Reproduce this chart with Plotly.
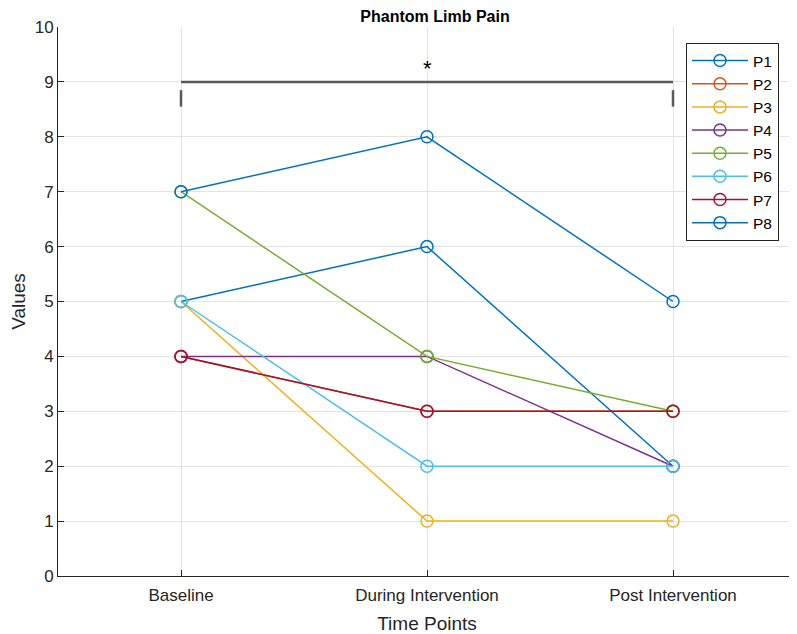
import plotly.graph_objects as go

time_points = ["Baseline", "During Intervention", "Post Intervention"]
participants = ["P1", "P2", "P3", "P4", "P5", "P6", "P7", "P8"]
P1 = [5, 6, 2]
P2 = [4, 3, 3]
P3 = [5, 1, 1]
P4 = [4, 4, 2]
P5 = [7, 4, 3]
P6 = [5, 2, 2]
P7 = [4, 3, 3]
P8 = [7, 8, 5]
series = [P1, P2, P3, P4, P5, P6, P7, P8]
colors = ["#0072BD", "#D95319", "#EDB120", "#7E2F8E", "#77AC30", "#4DBEEE", "#A2142F", "#0072BD"]

sig_level = 9
sig_tick_bottom = 8.55
sig_tick_top = 8.85
sig_label_y = 9.25

x_idx = [1, 2, 3]

FONT = "Liberation Sans, Arial, Helvetica, sans-serif"

fig = go.Figure()
for name, vals, c in zip(participants, series, colors):
    fig.add_trace(go.Scatter(
        x=x_idx, y=vals, name=name, mode="lines+markers",
        line=dict(color=c, width=1.5),
        marker=dict(symbol="circle-open", size=12, color=c, line=dict(width=1.5, color=c)),
    ))

# significance bracket
fig.add_shape(type="line", x0=x_idx[0], x1=x_idx[-1], y0=sig_level, y1=sig_level,
              xref="x", yref="y", line=dict(color="#595959", width=2.5))
for xv in (x_idx[0], x_idx[-1]):
    fig.add_shape(type="line", x0=xv, x1=xv, y0=sig_tick_bottom, y1=sig_tick_top,
                  xref="x", yref="y", line=dict(color="#595959", width=2.5))
fig.add_annotation(x=x_idx[1], y=sig_label_y, text="*", showarrow=False,
                   font=dict(size=22, color="black", family=FONT))

fig.update_layout(
    width=789, height=626,
    margin=dict(l=50, r=1, t=19, b=58),
    paper_bgcolor="white", plot_bgcolor="white",
    font=dict(family=FONT, color="#262626"),
    title=dict(text="<b>Phantom Limb Pain</b>", x=(435 - 8) / 789, xanchor="center",
               y=1 - 3 / 626, yanchor="top", yref="container", pad=dict(t=0, b=0),
               font=dict(size=16, color="black")),
    showlegend=True,
    legend=dict(x=(686 - 58) / 738, y=(576 - 43) / 549, xanchor="left", yanchor="top",
                bordercolor="#262626", borderwidth=1, bgcolor="white",
                font=dict(size=15.5, color="black"), tracegroupgap=0, itemwidth=56),
)
fig.update_xaxes(
    range=[0.5, 3.5], tickmode="array", tickvals=x_idx, ticktext=time_points,
    showgrid=True, gridcolor="#e3e3e3", gridwidth=1,
    showline=True, linecolor="#262626", linewidth=1,
    ticks="inside", ticklen=6, tickcolor="#262626",
    tickfont=dict(size=17, color="#262626"), ticklabelstandoff=4,
    title=dict(text="Time Points", font=dict(size=19, color="#262626"), standoff=12),
    zeroline=False, mirror=False,
)
fig.update_yaxes(
    range=[0, 10], tickmode="array", tickvals=list(range(0, 11)),
    showgrid=True, gridcolor="#e3e3e3", gridwidth=1,
    showline=True, linecolor="#262626", linewidth=1,
    ticks="inside", ticklen=6, tickcolor="#262626",
    tickfont=dict(size=17, color="#262626"),
    title=dict(text="Values", font=dict(size=19, color="#262626"), standoff=8),
    zeroline=False, mirror=False,
)

fig.write_html("out.html")
